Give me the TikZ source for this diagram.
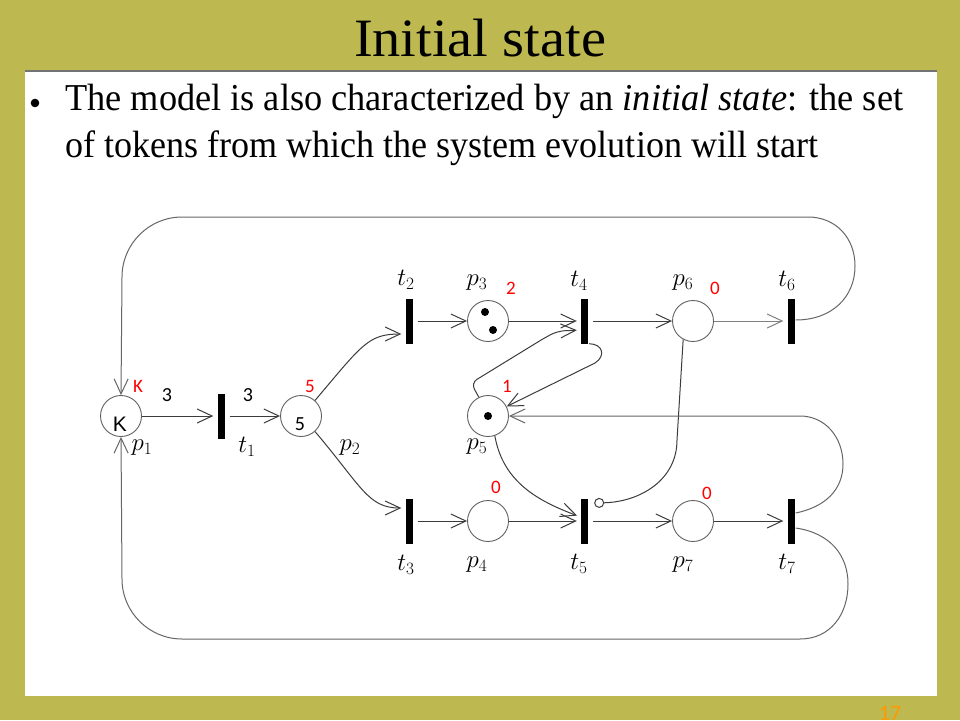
\documentclass[tikz,border=0pt]{standalone}
\usepackage{graphicx}
\usepackage{fontspec}
\setmainfont{Liberation Serif}
\newfontfamily\carl{Carlito}
\newfontfamily\arialf{Liberation Sans}
\usetikzlibrary{calc,arrows.meta}
\definecolor{olivebg}{RGB}{189,185,80}
\definecolor{orng}{RGB}{255,153,0}
\definecolor{arcgray}{RGB}{60,60,60}
\begin{document}
\begin{tikzpicture}[x=1pt,y=1pt,
  place/.style={circle, draw=black!62, line width=0.9pt, minimum size=41pt, inner sep=0pt},
  trans/.style={fill=black, minimum width=7pt, minimum height=45pt, inner sep=0pt},
  arc/.style={draw=arcgray, line width=1pt, -{Straight Barb[length=15pt,width=14pt,line width=1pt]}},
  inhib/.style={draw=arcgray, line width=1pt, -{Circle[open,length=10pt,width=10pt,line width=1pt]}},
  lab/.style={font=\fontsize{23}{23}\selectfont, inner sep=0pt},
  rednum/.style={font=\carl\fontsize{19}{19}\selectfont, text=red, inner sep=0pt},
  blknum/.style={font=\carl\fontsize{20}{20}\selectfont, text=black, inner sep=0pt},
  totr/.style={shorten >=4pt},
  fromt/.style={shorten <=5pt}]
\useasboundingbox (0,0) rectangle (960,-720);
% background
\fill[olivebg] (0,0) rectangle (960,-720);
\fill[white] (25,-71) rectangle (937,-696);
\draw[black!55, line width=1.2pt] (25,-71) -- (937,-71);
% title and text
\node[anchor=base, inner sep=0pt] (title) at (480,-56) {\resizebox{252pt}{\height}{\fontsize{54}{60}\selectfont Initial state}};
\fill[black] (35,-103) circle (4.3pt);
\node[anchor=base west, inner sep=0pt] (l1) at (65,-110) {\resizebox{838pt}{\height}{\fontsize{38}{40}\selectfont The model is also characterized by an \textit{initial state}: the set}};
\node[anchor=base west, inner sep=0pt] (l2) at (65,-157) {\resizebox{753pt}{\height}{\fontsize{38}{40}\selectfont of tokens from which the system evolution will start}};
\node[anchor=north, inner sep=0pt, text=orng, font=\carl\fontsize{22}{22}\selectfont] (pg) at (890,-706) {17};
% places
\node[place] (p1) at (121,-416) {};
\node[place] (p2) at (301,-416) {};
\node[place] (p3) at (488,-321) {};
\node[place] (p4) at (488,-521) {};
\node[place] (p5) at (488,-416) {};
\node[place] (p6) at (693,-321) {};
\node[place] (p7) at (693,-521) {};
% transitions
\node[trans] (t1) at (221,-416) {};
\node[trans] (t2) at (409,-321) {};
\node[trans] (t3) at (409,-521) {};
\node[trans] (t4) at (584.5,-321) {};
\node[trans] (t5) at (584.5,-521) {};
\node[trans] (t6) at (791,-321) {};
\node[trans] (t7) at (791,-521) {};
% tokens
\fill ($(p3)+(-3,9)$) circle (4pt);
\fill ($(p3)+(5,-9)$) circle (4pt);
\fill (p5) circle (4pt);
% labels
\node[lab] (lp1) at (142,-448) {$p_1$};
\node[lab] (lt1) at (247,-447) {$t_1$};
\node[lab] (lp2) at (350,-448) {$p_2$};
\node[lab] (lt2) at (406,-280) {$t_2$};
\node[lab] (lt3) at (406,-565) {$t_3$};
\node[lab] (lp3) at (477,-283) {$p_3$};
\node[lab] (lt4) at (579,-281) {$t_4$};
\node[lab] (lp6) at (683,-283) {$p_6$};
\node[lab] (lt6) at (787,-281) {$t_6$};
\node[lab] (lp5) at (477,-447) {$p_5$};
\node[lab] (lp4) at (477,-565) {$p_4$};
\node[lab] (lt5) at (579,-564) {$t_5$};
\node[lab] (lp7) at (683,-565) {$p_7$};
\node[lab] (lt7) at (787,-564) {$t_7$};
% numbers
\node[rednum] (rK) at (138,-386) {K};
\node[rednum] (r5) at (310,-386) {5};
\node[rednum] (r2) at (511,-288) {2};
\node[rednum] (r0a) at (715,-288) {0};
\node[rednum] (r1) at (507,-386) {1};
\node[rednum] (r0b) at (496,-487) {0};
\node[rednum] (r0c) at (707,-493) {0};
\node[blknum] (b3a) at (167,-395) {3};
\node[blknum] (b3b) at (248,-395) {3};
\node[blknum] (b5) at (300,-424) {5};
\node[inner sep=0pt, font=\arialf\fontsize{21}{21}\selectfont] (bK) at (120,-424) {K};
% straight arcs
\draw[arc,totr] (p1) -- (t1);
\draw[arc,fromt] (t1) -- (p2);
\draw[arc,fromt] (t2) -- (p3);
\draw[arc,totr] (p3) -- (t4);
\draw[arc,fromt] (t4) -- (p6);
\draw[arc,totr,draw=black!50] (p6) -- (t6);
\draw[arc,fromt] (t3) -- (p4);
\draw[arc,totr] (p4) -- (t5);
\draw[arc,fromt] (t5) -- (p7);
\draw[arc,totr] (p7) -- (t7);
% curved arcs
\draw[arc,totr] (p2.48) .. controls (362,-345) and (368,-334) .. ($(t2.west)+(0,-13)$);
\draw[arc,totr] (p2.-48) .. controls (362,-487) and (368,-508) .. ($(t3.west)+(0,13)$);
\draw[arc,totr,rounded corners=7pt] (p5.116) -- (471,-383) -- (546,-337) -- (558,-331) -- ($(t4.west)+(0,-9)$);
\draw[arc] ($(t4.south east)+(1,0)$) .. controls (603,-344) and (606,-356) .. (595,-363) -- (p5.27);
\draw[arc,totr] (p5.-71) .. controls (503,-482) and (538,-501) .. ($(t5.west)+(0,4)$);
\draw[inhib] (p6.-118) -- (677,-440) .. controls (677,-480) and (640,-502) .. ($(t5.east)+(6,18)$);
% loops
\draw[arc,draw=black!60] ($(t6.east)+(1,1)$) .. controls (832,-320) and (855,-297) .. (855,-266) .. controls (855,-237) and (835,-217) .. (808,-217) -- (182,-217) .. controls (149,-217) and (122,-244) .. (122,-277) -- (p1.north);
\draw[arc,draw=black!60] ($(t7.east)+(1,8)$) .. controls (825,-507) and (843,-490) .. (843,-464) .. controls (843,-437) and (825,-416) .. (800,-416) -- (p5.east);
\draw[arc,draw=black!60] ($(t7.east)+(1,-7)$) .. controls (830,-533) and (848,-555) .. (848,-584) .. controls (848,-615) and (830,-639) .. (800,-639) -- (182,-639) .. controls (149,-639) and (122,-612) .. (122,-579) -- (p1.south);
\end{tikzpicture}
\end{document}
